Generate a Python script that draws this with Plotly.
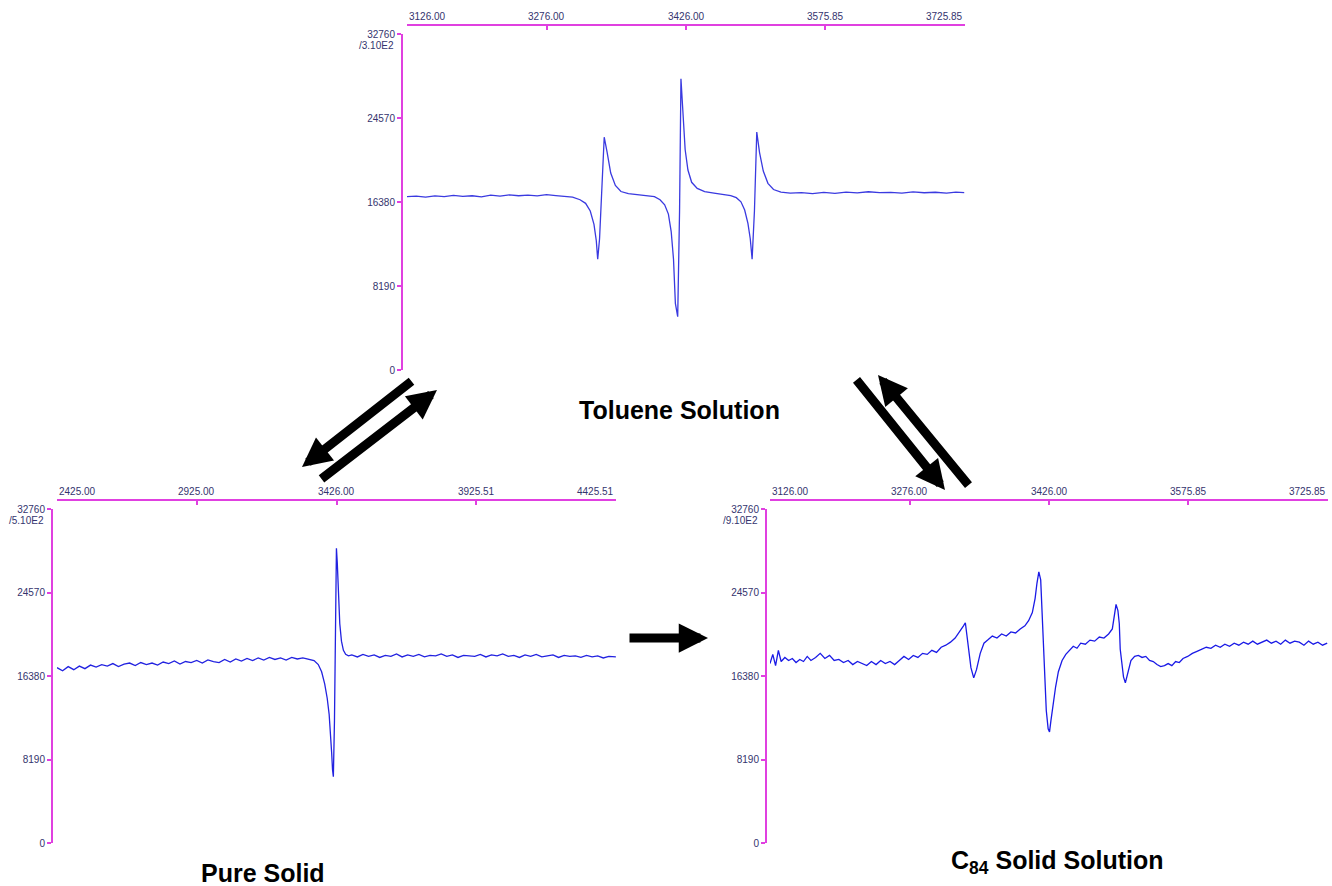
import plotly.graph_objects as go

W, H = 1332, 886

# ---------------- data ----------------
# Toluene solution spectrum (field in G, intensity)
tol_field = [3126, 3136, 3146, 3156, 3166, 3176, 3186, 3196, 3206, 3216, 3226, 3236, 3246, 3256,
             3266, 3276, 3286, 3296, 3304, 3312, 3318, 3323, 3327, 3329.5, 3331, 3333, 3335.5, 3338,
             3341, 3345, 3350, 3356, 3364, 3374, 3384, 3392, 3398, 3403, 3407, 3410, 3412.5, 3414.5,
             3417, 3419, 3420.5, 3422.5, 3425, 3428, 3432, 3438, 3446, 3456, 3466, 3474, 3480, 3485,
             3489, 3492.5, 3495, 3497, 3499.5, 3502, 3505, 3509, 3514, 3520, 3528, 3538, 3550, 3562,
             3574, 3586, 3598, 3610, 3622, 3634, 3646, 3658, 3670, 3682, 3694, 3706, 3716, 3725]
tol_int = [16900, 16960, 16850, 16980, 16900, 17020, 16930, 16990, 16880, 17050, 16950, 17080, 16990, 17060,
           16970, 17100, 17000, 16950, 16850, 16600, 16250, 15500, 14200, 12600, 10800, 12800, 18000, 22700,
           21300, 19200, 18000, 17400, 17200, 17100, 17050, 16900, 16600, 16100, 15200, 13500, 10800, 6500,
           5200, 15500, 28400, 25500, 21500, 19500, 18300, 17700, 17400, 17250, 17150, 17000, 16800, 16400,
           15600, 14300, 12800, 10800, 15500, 23200, 21200, 19400, 18200, 17600, 17350, 17250, 17300, 17200,
           17320, 17230, 17350, 17260, 17380, 17290, 17320, 17240, 17360, 17280, 17330, 17250, 17350, 17300]

# Pure solid spectrum
pure_field = [2425, 2445, 2465, 2485, 2505, 2525, 2545, 2565, 2585, 2605, 2625, 2645, 2665, 2685, 2705,
              2725, 2745, 2765, 2785, 2805, 2825, 2845, 2865, 2885, 2905, 2925, 2945, 2965, 2985, 3005,
              3025, 3045, 3065, 3085, 3105, 3125, 3145, 3165, 3185, 3205, 3225, 3245, 3265, 3285, 3305,
              3325, 3345, 3360, 3372, 3383, 3392, 3399, 3404, 3408, 3411, 3414, 3418, 3422, 3425, 3428,
              3432, 3437, 3443, 3450, 3458, 3468, 3480, 3500, 3520, 3540, 3560, 3580, 3600, 3620, 3640,
              3660, 3680, 3700, 3720, 3740, 3760, 3780, 3800, 3820, 3840, 3860, 3880, 3900, 3920, 3940,
              3960, 3980, 4000, 4020, 4040, 4060, 4080, 4100, 4120, 4140, 4160, 4180, 4200, 4220, 4240,
              4260, 4280, 4300, 4320, 4340, 4360, 4380, 4400, 4425]
pure_int = [17200, 16900, 17300, 17000, 17350, 17100, 17450, 17250, 17500, 17350, 17600, 17300, 17550, 17650, 17400,
            17700, 17500, 17650, 17450, 17750, 17600, 17850, 17550, 17800, 17700, 17900, 17650, 17950, 17800, 17700,
            18000, 17750, 18050, 17850, 18100, 17900, 18150, 17950, 18200, 18000, 18150, 17950, 18200, 18050, 18150,
            18000, 17900, 17500, 16800, 15600, 14200, 12600, 10800, 8800, 7200, 6500, 12000, 24000, 28900, 27500,
            24000, 21500, 19800, 18900, 18500, 18350, 18450, 18250, 18500, 18300, 18450, 18200, 18400, 18300, 18550,
            18250, 18450, 18300, 18500, 18250, 18400, 18350, 18550, 18300, 18450, 18200, 18400, 18350, 18300, 18500,
            18250, 18450, 18350, 18550, 18300, 18400, 18200, 18450, 18300, 18500, 18250, 18350, 18450, 18200, 18400,
            18300, 18350, 18200, 18400, 18250, 18350, 18150, 18300, 18250]

# C84 solid solution spectrum
c84_field = [3126, 3129, 3132, 3135, 3138, 3142, 3146, 3150, 3154, 3158, 3162, 3166, 3170, 3175, 3180,
             3185, 3190, 3195, 3200, 3205, 3210, 3215, 3220, 3225, 3230, 3235, 3240, 3245, 3250, 3255,
             3260, 3265, 3270, 3275, 3280, 3285, 3290, 3295, 3300, 3305, 3310, 3315, 3320, 3325, 3330,
             3334, 3336, 3339, 3342, 3345, 3348, 3352, 3356, 3360, 3365, 3370, 3375, 3380, 3385, 3390,
             3395, 3400, 3404, 3408, 3411, 3413, 3415, 3417, 3419, 3421, 3423, 3425, 3426.5, 3428, 3430,
             3433, 3436, 3440, 3444, 3448, 3452, 3456, 3460, 3465, 3470, 3475, 3480, 3485, 3490, 3494,
             3496, 3498, 3500, 3501.5, 3502.5, 3504, 3506, 3508, 3511, 3514, 3518, 3522, 3526, 3530, 3534,
             3538, 3542, 3546, 3550, 3554, 3558, 3562, 3566, 3570, 3575, 3580, 3585, 3590, 3595, 3600,
             3605, 3610, 3615, 3620, 3625, 3630, 3635, 3640, 3645, 3650, 3655, 3660, 3665, 3670, 3675,
             3680, 3685, 3690, 3695, 3700, 3705, 3710, 3715, 3720, 3725]
c84_int = [17600, 18500, 17400, 18900, 17800, 18200, 17900, 18100, 17700, 18000, 17800, 18300, 17900, 18200, 18600,
           18100, 18400, 17900, 18000, 17700, 17900, 17500, 17800, 17600, 17400, 17800, 17500, 17900, 17600, 17800,
           17500, 17900, 18300, 18000, 18400, 18200, 18600, 18500, 18900, 18700, 19200, 19400, 19700, 20100, 20700,
           21300, 21600, 19500, 17200, 16200, 17000, 18600, 19600, 19900, 20300, 20100, 20500, 20300, 20700, 20600,
           21000, 21300, 21800, 22600, 24000, 25500, 26600, 25800, 22000, 17000, 13000, 11200, 10900, 12000, 13500,
           15300, 16800, 17900, 18500, 18900, 19300, 19100, 19600, 19500, 19900, 19800, 20200, 20100, 20500, 21000,
           22200, 23400, 22800, 21500, 19000, 17500, 16300, 15700, 16800, 17900, 18300, 18400, 18200, 18300, 17900,
           17800, 17500, 17300, 17400, 17600, 17400, 17800, 17700, 18100, 18300, 18600, 18800, 19000, 19200, 19100,
           19400, 19200, 19500, 19300, 19600, 19400, 19700, 19500, 19800, 19500, 19700, 19900, 19600, 19800, 19500,
           19900, 19600, 19800, 19700, 19400, 19800, 19500, 19700, 19400, 19600]

# axis ticks
y_ticks = [0, 8190, 16380, 24570, 32760]
y_tick_labels = ["0", "8190", "16380", "24570", "32760"]
top_x_ticks = [3126.00, 3276.00, 3426.00, 3575.85, 3725.85]
top_x_labels = ["3126.00", "3276.00", "3426.00", "3575.85", "3725.85"]
pure_x_ticks = [2425.00, 2925.00, 3426.00, 3925.51, 4425.51]
pure_x_labels = ["2425.00", "2925.00", "3426.00", "3925.51", "4425.51"]
c84_x_ticks = [3126.00, 3276.00, 3426.00, 3575.85, 3725.85]
c84_x_labels = ["3126.00", "3276.00", "3426.00", "3575.85", "3725.85"]
scale_labels = ["/3.10E2", "/5.10E2", "/9.10E2"]
panel_titles = ["Toluene Solution", "Pure Solid", "C<sub>84</sub> Solid Solution"]

# ---------------- layout helpers ----------------
def px(x):
    return x / W

def py(y):
    return 1 - y / H

AX = "#e040e0"
TXT = "#34346e"
FONT = "Liberation Sans, Arial"

panels = [
    dict(xd=(407, 965), yd=(370, 34), yax=402, xax=25, xt=top_x_ticks, xl=top_x_labels,
         fx=tol_field, fy=tol_int, color="#3a3ae0"),
    dict(xd=(57, 616), yd=(843, 509), yax=52, xax=500, xt=pure_x_ticks, xl=pure_x_labels,
         fx=pure_field, fy=pure_int, color="#2222e0"),
    dict(xd=(770, 1328), yd=(843, 509), yax=766, xax=500, xt=c84_x_ticks, xl=c84_x_labels,
         fx=c84_field, fy=c84_int, color="#1a1ae6"),
]

fig = go.Figure()
annotations = []
layout = {}
for i, p in enumerate(panels):
    n = "" if i == 0 else str(i + 1)
    fig.add_trace(go.Scatter(x=p["fx"], y=p["fy"], mode="lines",
                             line=dict(color=p["color"], width=1.3),
                             xaxis="x" + n, yaxis="y" + n, showlegend=False,
                             hoverinfo="skip"))
    layout["xaxis" + n] = dict(
        domain=[px(p["xd"][0]), px(p["xd"][1])], range=[p["xt"][0], p["xt"][-1]],
        side="top", anchor="free", position=py(p["xax"]), automargin=False,
        showline=True, linecolor=AX, linewidth=2, ticks="inside", ticklen=4,
        tickcolor=AX, tickwidth=2, tickvals=p["xt"], showticklabels=False,
        showgrid=False, zeroline=False, fixedrange=True)
    layout["yaxis" + n] = dict(
        domain=[py(p["yd"][0]), py(p["yd"][1])], range=[0, 32760],
        anchor="free", position=px(p["yax"]), automargin=False,
        showline=True, linecolor=AX, linewidth=2, ticks="outside", ticklen=4,
        tickcolor=AX, tickwidth=2, tickvals=y_ticks, ticktext=y_tick_labels,
        tickfont=dict(family=FONT, size=10, color=TXT),
        showgrid=False, zeroline=False, fixedrange=True)
    # x tick labels (first left-aligned, last right-aligned)
    for j, (tv, tl) in enumerate(zip(p["xt"], p["xl"])):
        anchor = "left" if j == 0 else ("right" if j == len(p["xt"]) - 1 else "center")
        annotations.append(dict(x=tv, xref="x" + n, y=py(p["xax"]), yref="paper",
                                text=tl, showarrow=False, xanchor=anchor, yanchor="bottom",
                                yshift=1, font=dict(family=FONT, size=10, color=TXT)))
    annotations.append(dict(x=px(p["yax"] - 6), xref="paper", y=py(p["yd"][1] + 11), yref="paper",
                            text=scale_labels[i], showarrow=False, xanchor="right", yanchor="middle",
                            font=dict(family=FONT, size=10, color=TXT)))

# panel titles
title_pos = [(679, 410), (263, 873), (1057, 862)]
for t, (tx, ty) in zip(panel_titles, title_pos):
    annotations.append(dict(x=px(tx), y=py(ty), xref="paper", yref="paper", text="<b>" + t + "</b>",
                            showarrow=False, xanchor="center", yanchor="middle",
                            font=dict(family=FONT, size=25, color="black")))

# arrows: (head x, head y, tail x, tail y) in pixels
arrows = [(302, 467, 413, 380), (437, 390, 320, 480), (945, 490, 855, 378),
          (878, 375, 970, 487), (708, 638, 628, 638)]
for hx, hy, tx, ty in arrows:
    annotations.append(dict(x=px(hx), y=py(hy), xref="paper", yref="paper", text=" ",
                            showarrow=True, ax=tx - hx, ay=ty - hy, axref="pixel", ayref="pixel",
                            arrowhead=2, arrowsize=0.65, arrowwidth=9, arrowcolor="black",
                            standoff=0, startstandoff=0, font=dict(size=1)))

fig.update_layout(width=W, height=H, margin=dict(l=0, r=0, t=0, b=0, autoexpand=False),
                  paper_bgcolor="white", plot_bgcolor="white",
                  annotations=annotations, showlegend=False, **layout)

fig.write_html("out.html", config={"displayModeBar": False},
               post_script="document.body.style.margin='0px';")
